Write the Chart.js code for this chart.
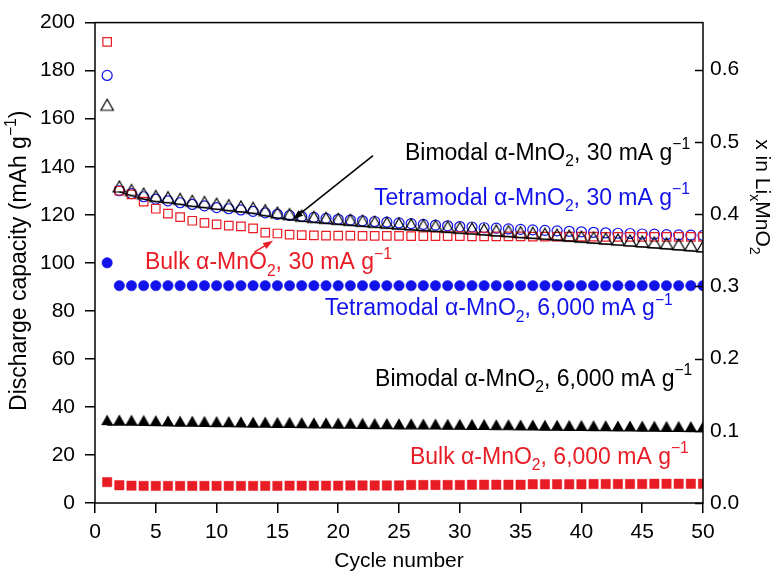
<!DOCTYPE html>
<html><head><meta charset="utf-8">
<script src="https://cdn.jsdelivr.net/npm/chart.js@4/dist/chart.umd.min.js"></script>
<style>html,body{margin:0;padding:0;background:#fff}#wrap{width:780px;height:577px}</style>
</head><body><div id="wrap"><canvas id="c" width="780" height="577"></canvas></div>
<script>
const cycles = [1,2,3,4,5,6,7,8,9,10,11,12,13,14,15,16,17,18,19,20,21,22,23,24,25,26,27,28,29,30,31,32,33,34,35,36,37,38,39,40,41,42,43,44,45,46,47,48,49,50];
const bulk30 = [192,130,128.5,125.5,122.5,120.5,119,117.5,116.6,116,115.5,115.2,114.3,112.6,112.2,111.7,111.5,111.4,111.3,111.3,111.3,111.2,111.2,111.2,111.2,111.1,111.1,111.1,111.1,111.1,111.0,111.0,111.0,111.0,111.0,110.9,110.9,110.9,110.9,110.9,110.9,110.8,110.8,110.8,110.8,110.8,110.8,110.8,110.8,110.8];
const tetra30 = [178,130,128.8,127.5,126.5,125.8,125,124.3,123.7,123,122.5,122,121.4,120.8,120.2,119.7,119.3,118.9,118.5,118.1,117.8,117.5,117.2,116.9,116.6,116.3,116,115.7,115.4,115.1,114.9,114.6,114.4,114.1,113.9,113.7,113.5,113.3,113.1,112.9,112.7,112.5,112.3,112.2,112,111.9,111.7,111.6,111.5,111.4];
const bimodal30 = [163.5,129.5,128,126.5,125.5,125,124.3,123.5,123,122.3,121.7,121.2,120.6,119.6,118.6,118,117.3,116.8,116.4,116,115.6,115.2,114.8,114.4,114,113.7,113.4,113.1,112.7,112.3,112,111.6,111.2,110.9,110.5,110.2,109.8,109.4,109,108.6,108.2,107.8,107.4,107,106.6,106.2,105.8,105.4,105,104.5];
const tetra6000 = [100,90.5,90.5,90.5,90.5,90.5,90.5,90.5,90.5,90.5,90.5,90.5,90.5,90.5,90.5,90.5,90.5,90.5,90.5,90.5,90.5,90.5,90.5,90.5,90.5,90.5,90.5,90.5,90.5,90.5,90.5,90.5,90.5,90.5,90.5,90.5,90.5,90.5,90.5,90.5,90.5,90.5,90.5,90.5,90.5,90.5,90.5,90.5,90.5,90.5];
const bimodal6000 = [32.4,32.5,32.4,32.3,32.2,32.1,32.0,32.0,31.9,31.8,31.8,31.7,31.6,31.6,31.5,31.5,31.4,31.3,31.3,31.2,31.2,31.1,31.0,31.0,30.9,30.9,30.8,30.8,30.7,30.7,30.6,30.6,30.5,30.5,30.4,30.4,30.3,30.3,30.2,30.2,30.1,30.1,30.0,30.0,29.9,29.9,29.8,29.8,29.7,29.7];
const bulk6000 = [8.7,7.4,7.2,7.1,7.1,7.1,7.1,7.1,7.1,7.1,7.1,7.1,7.1,7.1,7.1,7.2,7.2,7.2,7.2,7.2,7.3,7.3,7.3,7.3,7.3,7.5,7.5,7.5,7.5,7.5,7.6,7.6,7.6,7.6,7.6,7.8,7.8,7.8,7.8,7.8,7.9,7.9,7.9,7.9,7.9,8.0,8.0,8.0,8.0,8.0];
const xTicks = [0,5,10,15,20,25,30,35,40,45,50];
const yTicks = [0,20,40,60,80,100,120,140,160,180,200];
const rightTicks = [0.0,0.1,0.2,0.3,0.4,0.5,0.6];
const xTitle = 'Cycle number';

const RED = 'rgb(232,28,36)';
const BLUE = 'rgb(18,18,235)';
const FONT = '"Liberation Sans", Arial, sans-serif';
const ANN = 23;

// annotation labels: [parts, color, cycle, capacity(baseline)]
const labels = [
  [[['Bimodal ','n'],['α','n'],['-MnO','n'],['2','sub'],[', 30 mA g','n'],['−1','sup']], '#000', 25.49, 143.0],
  [[['Tetramodal ','n'],['α','n'],['-MnO','n'],['2','sub'],[', 30 mA g','n'],['−1','sup']], BLUE, 22.94, 124.2],
  [[['Bulk ','n'],['α','n'],['-MnO','n'],['2','sub'],[', 30 mA g','n'],['−1','sup']], RED, 4.11, 97.35],
  [[['Tetramodal ','n'],['α','n'],['-MnO','n'],['2','sub'],[', 6,000 mA g','n'],['−1','sup']], BLUE, 18.9, 78.2],
  [[['Bimodal ','n'],['α','n'],['-MnO','n'],['2','sub'],[', 6,000 mA g','n'],['−1','sup']], '#000', 23.03, 48.9],
  [[['Bulk ','n'],['α','n'],['-MnO','n'],['2','sub'],[', 6,000 mA g','n'],['−1','sup']], RED, 25.9, 16.3]
];
// arrows: [color, tailCycle, tailCap, tipCycle, tipCap]
const arrows = [
  ['#000', 22.86, 144.6, 16.28, 118.1],
  [RED, 13.08, 104.3, 14.64, 109.2]
];

function triCanvas(filled){
  const c = document.createElement('canvas');
  c.width = 16; c.height = 26;
  const g = c.getContext('2d');
  const cx = 8, base = 13, w = filled ? 12 : 12.5, h = filled ? 10.5 : 11;
  g.beginPath();
  g.moveTo(cx - w/2, base); g.lineTo(cx + w/2, base); g.lineTo(cx, base - h); g.closePath();
  if (filled) { g.fillStyle = '#000'; g.fill(); }
  else { g.lineWidth = 1.2; g.strokeStyle = '#000'; g.lineJoin='miter'; g.stroke(); }
  return c;
}

function pts(arr){ return cycles.map((c,i)=>({x:c, y:arr[i]})); }

function richWidth(ctx, parts, size){
  let w = 0;
  for (const [t,k] of parts){
    const s = k==='n' ? size : size*0.68;
    ctx.font = s + 'px ' + FONT;
    w += ctx.measureText(t).width;
  }
  return w;
}
function drawRich(ctx, parts, x, y, size, color){
  ctx.fillStyle = color;
  ctx.textBaseline = 'alphabetic';
  ctx.textAlign = 'left';
  let cx = x;
  for (const [t,k] of parts){
    let s = size, dy = 0;
    if (k==='sub'){ s = size*0.68; dy = size*0.28; }
    if (k==='sup'){ s = size*0.68; dy = -size*0.45; }
    ctx.font = s + 'px ' + FONT;
    ctx.fillText(t, cx, y + dy);
    cx += ctx.measureText(t).width;
  }
}

const deco = {
  id: 'deco',
  afterDraw(chart){
    const ctx = chart.ctx, a = chart.chartArea;
    const xs = chart.scales.x, ys = chart.scales.y, yr = chart.scales.y1;
    ctx.save();
    ctx.strokeStyle = '#000'; ctx.lineWidth = 1.5;
    ctx.strokeRect(a.left, a.top, a.right - a.left, a.bottom - a.top);
    ctx.beginPath();
    for (const v of rightTicks){
      const py = Math.round(yr.getPixelForValue(v)) + 0.5;
      ctx.moveTo(a.right - 8, py); ctx.lineTo(a.right, py);
    }
    ctx.stroke();
    for (const [parts,color,cx,cy] of labels){
      drawRich(ctx, parts, xs.getPixelForValue(cx), ys.getPixelForValue(cy), ANN, color);
    }
    for (const [color,x1,y1,x2,y2] of arrows){
      const X1 = xs.getPixelForValue(x1), Y1 = ys.getPixelForValue(y1);
      const X2 = xs.getPixelForValue(x2), Y2 = ys.getPixelForValue(y2);
      const ang = Math.atan2(Y2-Y1, X2-X1);
      const hl = 10, hw = 3.5;
      ctx.strokeStyle = color; ctx.fillStyle = color; ctx.lineWidth = 1.5;
      ctx.beginPath(); ctx.moveTo(X1,Y1);
      ctx.lineTo(X2 - Math.cos(ang)*hl*0.8, Y2 - Math.sin(ang)*hl*0.8); ctx.stroke();
      ctx.beginPath();
      ctx.moveTo(X2, Y2);
      ctx.lineTo(X2 - Math.cos(ang)*hl - Math.sin(ang)*hw, Y2 - Math.sin(ang)*hl + Math.cos(ang)*hw);
      ctx.lineTo(X2 - Math.cos(ang)*hl + Math.sin(ang)*hw, Y2 - Math.sin(ang)*hl - Math.cos(ang)*hw);
      ctx.closePath(); ctx.fill();
    }
    ctx.fillStyle = '#000';
    ctx.font = '21px ' + FONT; ctx.textAlign = 'center'; ctx.textBaseline = 'alphabetic';
    ctx.fillText(xTitle, (a.left + a.right)/2, 567);
    const lp = [['Discharge capacity (mAh g','n'],['−1','sup'],[')','n']];
    ctx.save();
    ctx.translate(26, (a.top + a.bottom)/2 - 2);
    ctx.rotate(-Math.PI/2);
    const lw = richWidth(ctx, lp, 23);
    drawRich(ctx, lp, -lw/2, 0, 23, '#000');
    ctx.restore();
    const rp = [['x in Li','n'],['x','sub'],['MnO','n'],['2','sub']];
    ctx.save();
    ctx.translate(756, 197);
    ctx.rotate(Math.PI/2);
    const rw = richWidth(ctx, rp, 21);
    drawRich(ctx, rp, -rw/2, 0, 21, '#000');
    ctx.restore();
    ctx.restore();
  }
};

const tickFont = {family: FONT, size: 21};
new Chart(document.getElementById('c'), {
  type: 'scatter',
  data: { datasets: [
    { label:'Bimodal 30', data: pts(bimodal30), showLine: true, borderColor:'#000', borderWidth:1.2,
      pointStyle: triCanvas(false), pointRadius: 6,
      segment: { borderColor: c => c.p0DataIndex === 0 ? 'rgba(0,0,0,0)' : '#000' } },
    { label:'Bulk 30', data: pts(bulk30), pointStyle:'rect', pointRadius:6, borderColor:RED, backgroundColor:'rgba(0,0,0,0)', borderWidth:1.2 },
    { label:'Tetramodal 30', data: pts(tetra30), pointStyle:'circle', pointRadius:5, borderColor:BLUE, backgroundColor:'rgba(0,0,0,0)', borderWidth:1.2 },
    { label:'Tetramodal 6000', data: pts(tetra6000), pointStyle:'circle', pointRadius:5.2, borderColor:BLUE, backgroundColor:BLUE, borderWidth:0.5 },
    { label:'Bimodal 6000', data: pts(bimodal6000), showLine: true, borderColor:'#000', borderWidth:1.2,
      pointStyle: triCanvas(true), pointRadius: 6 },
    { label:'Bulk 6000', data: pts(bulk6000), pointStyle:'rect', pointRadius:6.6, borderColor:RED, backgroundColor:RED, borderWidth:0.5 }
  ]},
  options: {
    responsive: false, animation: false, devicePixelRatio: 1,
    layout: { padding: { top: 12, left: 0, right: 0, bottom: 0 } },
    plugins: { legend: {display:false}, tooltip: {enabled:false} },
    scales: {
      x: { type:'linear', min:0, max:50, position:'bottom',
        afterBuildTicks: s => { s.ticks = xTicks.map(v=>({value:v})); },
        afterFit: s => { s.height = 74; },
        border: {display:false},
        grid: {display:true, drawOnChartArea:false, drawTicks:true, tickLength:10, color:'#000', lineWidth:1.5},
        ticks: {font: tickFont, color:'#000', padding:7, maxRotation:0, autoSkip:false} },
      y: { type:'linear', min:0, max:200, position:'left',
        afterBuildTicks: s => { s.ticks = yTicks.map(v=>({value:v})); },
        afterFit: s => { s.width = 95; },
        border: {display:false},
        grid: {display:true, drawOnChartArea:false, drawTicks:true, tickLength:10, color:'#000', lineWidth:1.5},
        ticks: {font: tickFont, color:'#000', padding:10, autoSkip:false} },
      y1: { type:'linear', min:0, max:0.665, position:'right',
        afterBuildTicks: s => { s.ticks = rightTicks.map(v=>({value:v})); },
        afterFit: s => { s.width = 77; },
        border: {display:false},
        grid: {display:false, drawTicks:false, drawOnChartArea:false},
        ticks: {font: tickFont, color:'#000', padding:7, autoSkip:false, callback: v => v.toFixed(1)} }
    }
  },
  plugins: [deco]
});
</script></body></html>
